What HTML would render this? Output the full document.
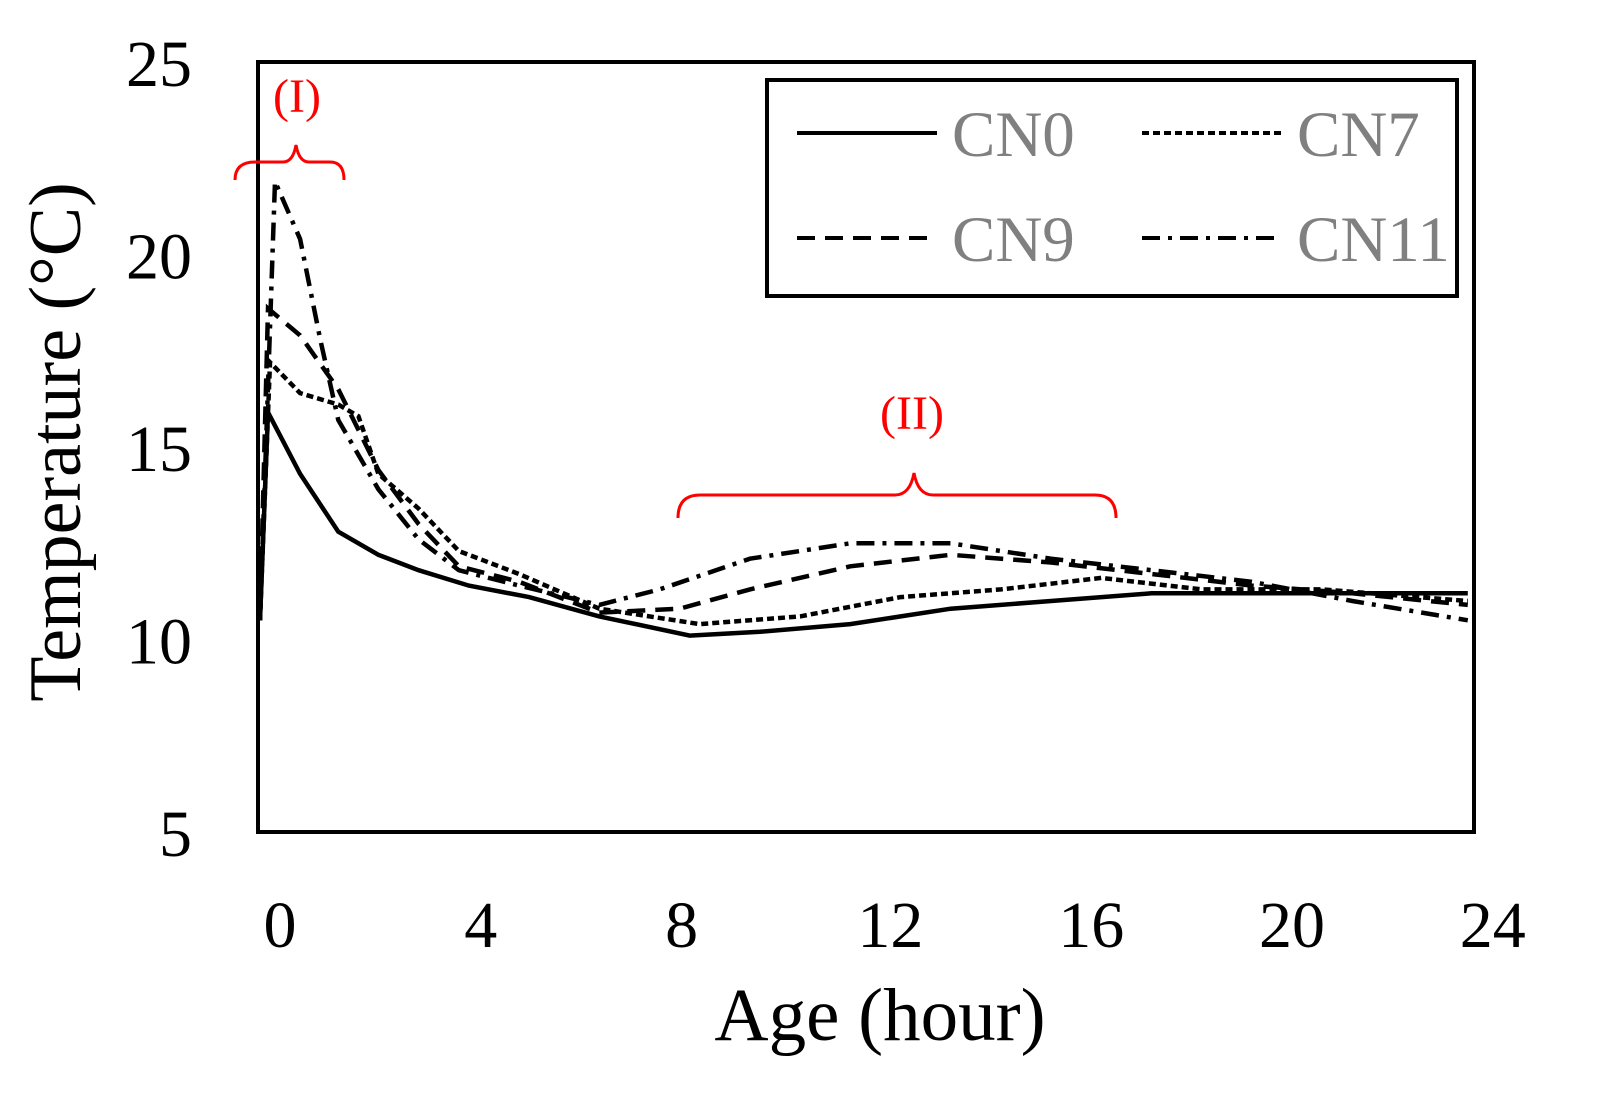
<!DOCTYPE html>
<html><head><meta charset="utf-8"><style>
body{margin:0;background:#fff}
svg text{font-family:"Liberation Serif",serif}
</style></head><body>
<svg id="chart" width="1601" height="1099" viewBox="0 0 1601 1099" xmlns="http://www.w3.org/2000/svg">
<rect width="1601" height="1099" fill="#fff"/>
<g id="marks"></g>
<rect x="258" y="62" width="1216" height="770" fill="none" stroke="#000" stroke-width="4"/>
<g id="ticks" font-size="66" fill="#000"></g>
<text x="880" y="1040" font-size="75" text-anchor="middle">Age (hour)</text>
<text transform="translate(80,442) rotate(-90)" font-size="74" text-anchor="middle">Temperature (°C)</text>
<g>
<rect x="767" y="80" width="690" height="216" fill="#fff" stroke="#000" stroke-width="4"/>
<line x1="797" y1="133" x2="937" y2="133" stroke="#000" stroke-width="4"/>
<text x="952" y="156" font-size="65" fill="#808080">CN0</text>
<line x1="1142" y1="133" x2="1282" y2="133" stroke="#000" stroke-width="4" stroke-dasharray="7,4"/>
<text x="1297" y="156" font-size="65" fill="#808080">CN7</text>
<line x1="797" y1="238" x2="937" y2="238" stroke="#000" stroke-width="4" stroke-dasharray="18,10"/>
<text x="952" y="261" font-size="65" fill="#808080">CN9</text>
<line x1="1142" y1="238" x2="1282" y2="238" stroke="#000" stroke-width="4" stroke-dasharray="18,8,4,8"/>
<text x="1297" y="261" font-size="65" fill="#808080">CN11</text>
</g>
<g fill="none" stroke="#f00" stroke-width="3">
<path d="M235,180 Q235,162 255,162 L283,162 Q293,162 296,145 Q299,162 309,162 L330,162 Q344,162 344,180"/>
</g>
<text x="297" y="112" font-size="48" fill="#f00" text-anchor="middle">(I)</text>
<g fill="none" stroke="#f00" stroke-width="3">
<path d="M678,518 Q678,495 700,495 L895,495 Q910,495 914,473 Q918,495 933,495 L1095,495 Q1116,495 1116,518"/>
</g>
<text x="912" y="429" font-size="48" fill="#f00" text-anchor="middle">(II)</text>
</svg>
<script>
const yTicks=[5,10,15,20,25];
const xTicks=[0,4,8,12,16,20,24];
const cn0H=[-0.16,0,0.64,1.4,2.2,3,4,5.2,6.6,8.4,9.8,11.6,13.6,15.6,17.6,20,22,23.9];
const cn0V=[10.5,15.9,14.3,12.8,12.2,11.8,11.4,11.1,10.6,10.1,10.2,10.4,10.8,11.0,11.2,11.2,11.2,11.2];
const cn7H=[-0.16,0.04,0.64,1.4,1.8,2.2,3,3.8,5,6.6,8.6,10.6,12.6,14.6,16.6,18.6,21,23.9];
const cn7V=[10.5,17.2,16.4,16.1,15.8,14.3,13.4,12.3,11.7,10.8,10.4,10.6,11.1,11.3,11.6,11.3,11.3,11.0];
const cn9H=[-0.16,0,0.64,1.4,2.2,3,3.8,5,6.6,8.2,9.6,11.6,13.6,15.6,17.6,19.6,21.6,23.9];
const cn9V=[10.5,18.6,17.9,16.5,14.4,13.0,11.9,11.5,10.7,10.8,11.3,11.9,12.2,12.0,11.7,11.4,11.2,10.9];
const cn11H=[-0.16,0.14,0.64,1.04,1.4,2.2,3,3.8,5,6.6,7.8,9.6,11.6,13.6,15.6,17.6,19.6,21.6,23.9];
const cn11V=[10.5,21.9,20.4,17.8,15.7,13.9,12.6,11.8,11.4,10.9,11.3,12.1,12.5,12.5,12.1,11.8,11.5,11.0,10.5];
const X=h=>268+50.2*h, Y=v=>832-38.5*(v-5);
const NS="http://www.w3.org/2000/svg";
const marks=document.getElementById('marks'), ticks=document.getElementById('ticks');
const series=[['cn0',cn0H,cn0V,''],['cn7',cn7H,cn7V,'7,4'],['cn9',cn9H,cn9V,'18,10'],['cn11',cn11H,cn11V,'18,8,4,8']];
series.forEach(s=>{
 const p=document.createElementNS(NS,'path');
 p.setAttribute('d',s[1].map((h,i)=>(i?'L':'M')+X(h).toFixed(1)+','+Y(s[2][i]).toFixed(1)).join(''));
 p.setAttribute('fill','none');p.setAttribute('stroke','#000');p.setAttribute('stroke-width','4.5');
 if(s[3])p.setAttribute('stroke-dasharray',s[3]);
 
 
 marks.appendChild(p);
});
yTicks.forEach(v=>{
 const t=document.createElementNS(NS,'text');
 t.setAttribute('x',192);t.setAttribute('y',Y(v)+24);t.setAttribute('text-anchor','end');t.textContent=v;
 
 
 ticks.appendChild(t);
});
xTicks.forEach(h=>{
 const t=document.createElementNS(NS,'text');
 const off=h>=12?20:12;
 t.setAttribute('x',X(h)+off);t.setAttribute('y',947);t.setAttribute('text-anchor','middle');t.textContent=h;
 
 
 ticks.appendChild(t);
});
</script>
</body></html>
